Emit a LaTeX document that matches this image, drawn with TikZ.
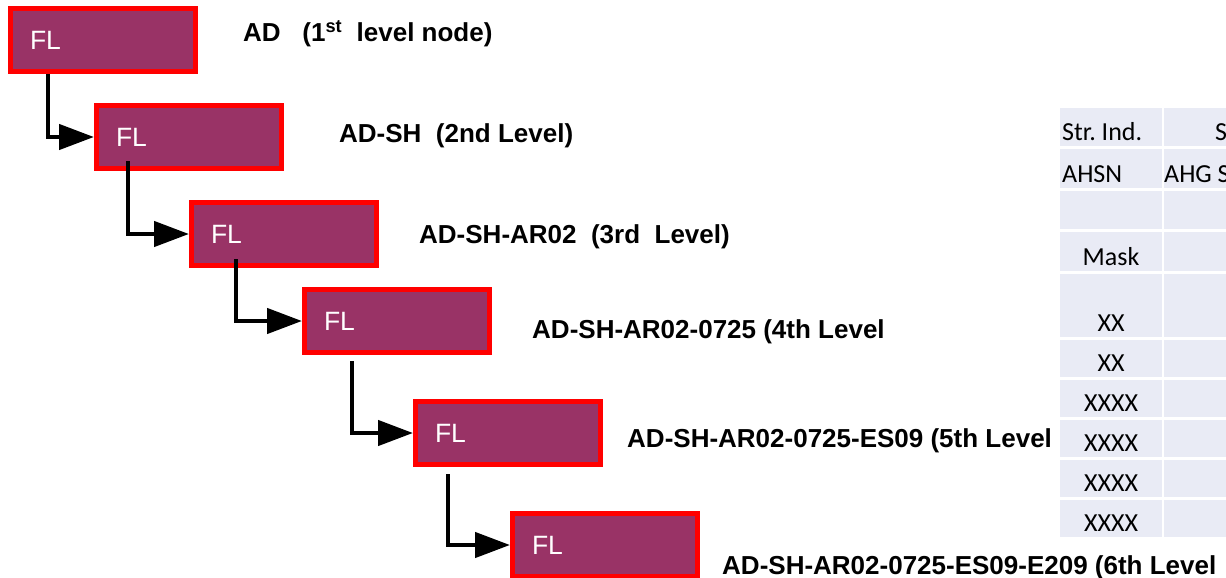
\documentclass[tikz,border=0pt]{standalone}
\usepackage{fontspec}
\setmainfont{Liberation Sans}
\newfontfamily\cellfont{Carlito}
\usetikzlibrary{arrows.meta}
\frenchspacing

\definecolor{boxfill}{HTML}{993366}
\definecolor{boxred}{HTML}{FF0000}
\definecolor{cellbg}{HTML}{E9EBF5}

\tikzset{
  flbox/.style={rectangle, draw=boxred, fill=boxfill, line width=5pt,
    minimum width=185pt, minimum height=63pt,
    inner xsep=19.5pt, inner ysep=0pt, text width=146pt, align=left,
    text=white, font=\fontsize{26.5}{30}\selectfont,
    outer sep=2.5pt, anchor=north west},
  conn/.style={line width=4.5pt, line join=miter,
    -{Triangle[length=35pt,width=25pt]}},
  lvl/.style={anchor=base west, inner sep=0pt,
    font=\bfseries\fontsize{26}{30}\selectfont},
  celltxt/.style={inner sep=0pt, font=\cellfont\fontsize{26}{30}\selectfont},
}

\begin{document}
\begin{tikzpicture}[x=1pt,y=-1pt]
\useasboundingbox (0,0) rectangle (1226,578);
\clip (0,0) rectangle (1226,578);

% hierarchy boxes
\node[flbox] (b1) at (8,6)     {FL};
\node[flbox] (b2) at (94,103)  {FL};
\node[flbox] (b3) at (189,200) {FL};
\node[flbox] (b4) at (302,287) {FL};
\node[flbox] (b5) at (413,399) {FL};
\node[flbox] (b6) at (510,511) {FL};

% elbow connectors
\draw[conn] ([xshift=40pt]b1.south west) |- (b2.west);
\draw[conn] ([xshift=34pt,yshift=10pt]b2.south west) |- (b3.west);
\draw[conn] ([xshift=47pt,yshift=9pt]b3.south west) |- (b4.west);
\draw[conn] ([xshift=50pt,yshift=-6pt]b4.south west) |- (b5.west);
\draw[conn] ([xshift=35pt,yshift=-7pt]b5.south west) |- (b6.west);

% level captions
\node[lvl] (t1) at (243,42)  {AD\ \ \ (1\textsuperscript{st}\ \ level node)};
\node[lvl] (t2) at (339,142) {AD-SH\ \ (2nd Level)};
\node[lvl] (t3) at (419,243) {AD-SH-AR02\ \ (3rd\ \ Level)};
\node[lvl] (t4) at (532,338) {AD-SH-AR02-0725 (4th Level};
\node[lvl] (t5) at (627,447) {AD-SH-AR02-0725-ES09 (5th Level};
\node[lvl] (t6) at (722,574) {AD-SH-AR02-0725-ES09-E209 (6th Level};

% structure table: cell backgrounds
\foreach \top/\bot in {108/146,149/188,191/229,232/271,274/337,
                       340/377,380/417,420/457,460/497,500/537}{
  \fill[cellbg] (1060,\top) rectangle (1162,\bot);
  \fill[cellbg] (1164,\top) rectangle (1240,\bot);
}

% structure table: cell texts
\node[celltxt, anchor=base west] (h1) at (1062,140) {Str. Ind.};
\node[celltxt, anchor=base west] (h2) at (1215,140) {S};
\node[celltxt, anchor=base west] (a1) at (1062,182) {AHSN};
\node[celltxt, anchor=base west] (a2) at (1164,182) {AHG S};
\node[celltxt, anchor=base] (m1) at (1111,265) {Mask};
\node[celltxt, anchor=base] (x1) at (1111,331) {XX};
\node[celltxt, anchor=base] (x2) at (1111,371) {XX};
\node[celltxt, anchor=base] (x3) at (1111,411) {XXXX};
\node[celltxt, anchor=base] (x4) at (1111,451) {XXXX};
\node[celltxt, anchor=base] (x5) at (1111,491) {XXXX};
\node[celltxt, anchor=base] (x6) at (1111,531) {XXXX};
\end{tikzpicture}
\end{document}
